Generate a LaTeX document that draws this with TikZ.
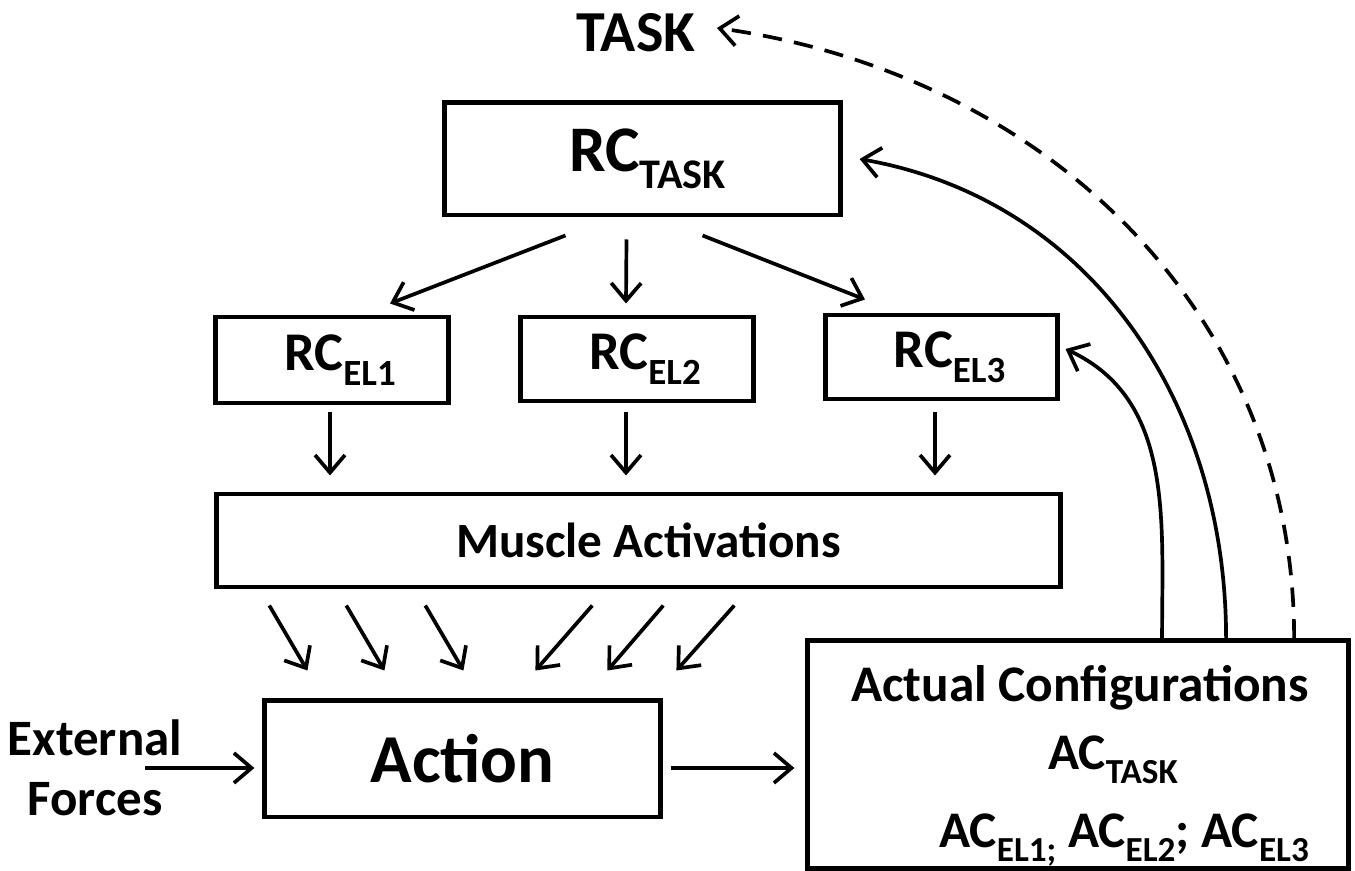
\documentclass[tikz,border=0pt]{standalone}
\usepackage{fontspec}
\setmainfont{Carlito}
\usetikzlibrary{arrows.meta}
\usetikzlibrary{calc}

% subscript a bit lower and smaller
\newcommand{\lowtxt}[2]{\raisebox{-0.55ex}{\fontsize{#1}{#1}\selectfont #2}}
\newcommand{\sz}[2]{\fontsize{#1}{#2}\selectfont\bfseries}

\tikzset{
  box/.style={draw, line width=1.4pt, inner sep=0pt},
  arr/.style={line width=1.05pt, -{Straight Barb[length=5pt, width=8.5pt]}},
}

\begin{document}
\begin{tikzpicture}[x=0.01cm, y=-0.01cm]
  \useasboundingbox (0,0) rectangle (1355,871);

  \node (task) [inner sep=0pt, font=\sz{16.5}{18}] at (636,33) {TASK};
  \node (rctask) [box, minimum width=3.95cm, minimum height=1.12cm, font=\sz{18.5}{20}] at (642.5,159) {\hspace*{0.1cm}RC\lowtxt{12}{TASK}};

  \node (rcel1) [box, minimum width=2.32cm, minimum height=0.86cm, font=\sz{15.5}{18}] at (332,360) {\hspace*{0.16cm}RC\lowtxt{10.5}{EL1}};
  \node (rcel2) [box, minimum width=2.32cm, minimum height=0.84cm, font=\sz{15.5}{18}] at (637,359) {\hspace*{0.16cm}RC\lowtxt{10.5}{EL2}};
  \node (rcel3) [box, minimum width=2.31cm, minimum height=0.84cm, font=\sz{15.5}{18}] at (941.5,357) {\hspace*{0.16cm}RC\lowtxt{10.5}{EL3}};

  \node (muscle) [box, minimum width=8.43cm, minimum height=0.93cm, font=\sz{14}{16}] at (638.5,540.5) {\hspace*{0.2cm}Muscle Activations};

  \node (action) [box, minimum width=3.95cm, minimum height=1.16cm, font=\sz{19.5}{22}] at (462.5,759) {Action};
  \node (ext) [align=center, inner sep=0pt, font=\sz{14.5}{17}] at (95,768) {External\\Forces};

  \node (ac) [box, minimum width=5.4cm, minimum height=2.27cm] at (1078,754.5) {};
  \node (acl1) [anchor=base, inner sep=0pt, font=\sz{14.6}{17}] at (1080,702) {Actual Configurations};
  \node (acl2) [anchor=base, inner sep=0pt, font=\sz{14.6}{17}] at (1113,770) {AC\lowtxt{10}{TASK}};
  \node (acl3) [anchor=base, inner sep=0pt, font=\sz{14.6}{17}] at (1124,848) {AC\lowtxt{10}{EL1;} AC\lowtxt{10}{EL2}; AC\lowtxt{10}{EL3}};

  % top level to the three elements
  \draw[arr] ([xshift=-0.77cm, yshift=-0.18cm]rctask.south) -- ([xshift=0.58cm, yshift=0.11cm]rcel1.north);
  \draw[arr] ([xshift=-0.16cm, yshift=-0.22cm]rctask.south) -- ([xshift=-0.11cm, yshift=0.11cm]rcel2.north);
  \draw[arr] ([xshift=0.6cm, yshift=-0.18cm]rctask.south) -- ([xshift=-0.765cm, yshift=0.13cm]rcel3.north);

  % elements to muscles
  \draw[arr, shorten <=0.07cm, shorten >=0.16cm] ([xshift=-0.02cm]rcel1.south) -- ([xshift=-0.02cm]rcel1.south |- muscle.north);
  \draw[arr, shorten <=0.09cm, shorten >=0.16cm] ([xshift=-0.11cm]rcel2.south) -- ([xshift=-0.11cm]rcel2.south |- muscle.north);
  \draw[arr, shorten <=0.11cm, shorten >=0.16cm] ([xshift=-0.065cm]rcel3.south) -- ([xshift=-0.065cm]rcel3.south |- muscle.north);

  % muscles to action
  \foreach \s/\e in {55/45, 132/122, 211/201, 378/273, 449/345, 520/414}
    \draw[arr] ($(muscle.south west)+(\s,16)$) -- ($(action.north west)+(\e,-28)$);

  \draw[arr, shorten >=0.08cm] ([xshift=0.5cm]ext.center) -- (action.west |- ext.center);
  \draw[arr, shorten <=0.08cm, shorten >=0.11cm] (action.east |- ext.center) -- (ac.west |- ext.center);

  % feedback
  \draw[arr] ([xshift=0.84cm]ac.north) to[out=90, in=-25] ([xshift=0.06cm, yshift=0.08cm]rcel3.east);
  \draw[arr] ([xshift=1.48cm]ac.north) to[out=90, in=-10] ([xshift=0.17cm]rctask.east);
  \draw[arr, dash pattern=on 5.5pt off 3.5pt] ([xshift=2.16cm]ac.north) to[out=90, in=-8] ([xshift=0.21cm, yshift=0.05cm]task.east);
\end{tikzpicture}
\end{document}
